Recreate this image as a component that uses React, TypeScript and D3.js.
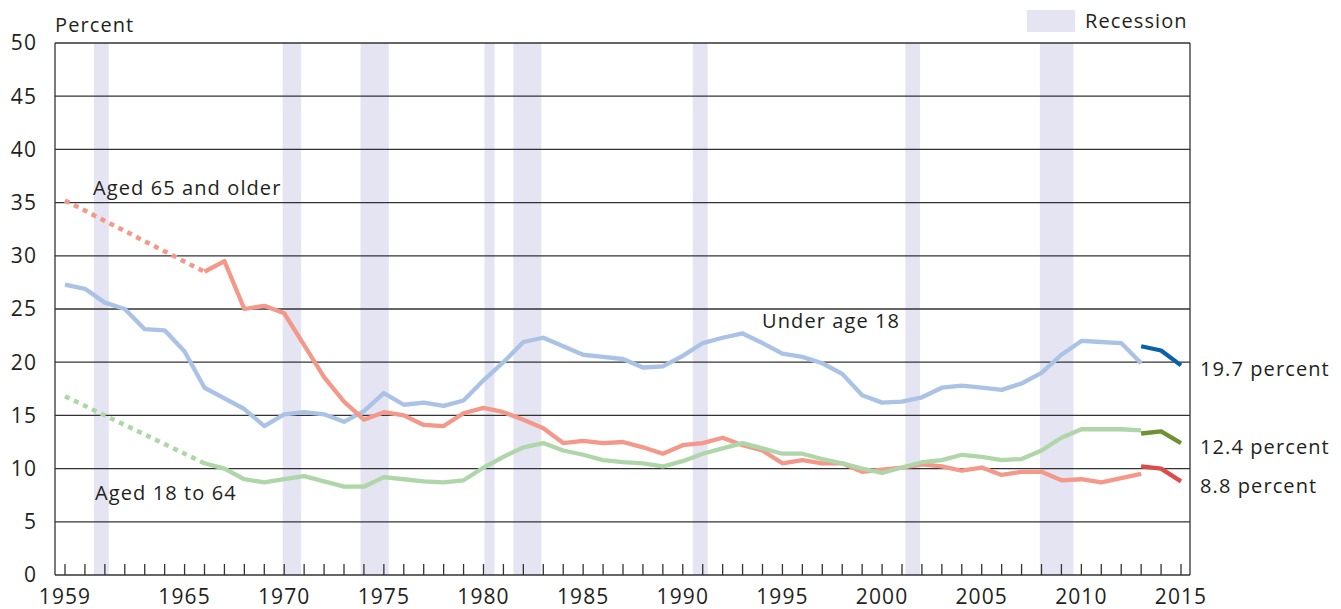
import React from 'react';
import * as d3 from 'd3';

// poverty rate by age, percent (official measure)
const firstYear = 1959;
const lastYear = 2015;

const under18 = [
  27.3, 26.9, 25.6, 25.0, 23.1, 23.0, 21.0, 17.6, 16.6, 15.6,
  14.0, 15.1, 15.3, 15.1, 14.4, 15.4, 17.1, 16.0, 16.2, 15.9,
  16.4, 18.3, 20.0, 21.9, 22.3, 21.5, 20.7, 20.5, 20.3, 19.5,
  19.6, 20.6, 21.8, 22.3, 22.7, 21.8, 20.8, 20.5, 19.9, 18.9,
  16.9, 16.2, 16.3, 16.7, 17.6, 17.8, 17.6, 17.4, 18.0, 19.0,
  20.7, 22.0, 21.9, 21.8, 19.9,
];
// 1966 - 2013
const aged65 = [
  28.5, 29.5, 25.0, 25.3, 24.6, 21.6, 18.6, 16.3, 14.6, 15.3,
  15.0, 14.1, 14.0, 15.2, 15.7, 15.3, 14.6, 13.8, 12.4, 12.6,
  12.4, 12.5, 12.0, 11.4, 12.2, 12.4, 12.9, 12.2, 11.7, 10.5,
  10.8, 10.5, 10.5, 9.7, 9.9, 10.1, 10.4, 10.2, 9.8, 10.1,
  9.4, 9.7, 9.7, 8.9, 9.0, 8.7, 9.1, 9.5,
];
const aged18to64 = [
  10.5, 10.0, 9.0, 8.7, 9.0, 9.3, 8.8, 8.3, 8.3, 9.2,
  9.0, 8.8, 8.7, 8.9, 10.1, 11.1, 12.0, 12.4, 11.7, 11.3,
  10.8, 10.6, 10.5, 10.2, 10.7, 11.4, 11.9, 12.4, 11.9, 11.4,
  11.4, 10.9, 10.5, 10.0, 9.6, 10.1, 10.6, 10.8, 11.3, 11.1,
  10.8, 10.9, 11.7, 12.9, 13.7, 13.7, 13.7, 13.6,
];
// 1959 and 1966 only (no annual data between)
const aged65Gap = [35.2, 28.5];
const aged18to64Gap = [16.8, 10.5];
const gapYears = [1959, 1966];
// redesigned survey 2013 - 2015
const newYears = [2013, 2014, 2015];
const under18New = [21.5, 21.1, 19.7];
const aged65New = [10.2, 10.0, 8.8];
const aged18to64New = [13.3, 13.5, 12.4];

const recessions = [
  [1960.45, 1961.2], [1969.92, 1970.85], [1973.83, 1975.25], [1980.05, 1980.55],
  [1981.5, 1982.9], [1990.5, 1991.25], [2001.17, 2001.9], [2007.92, 2009.6],
];
const yTicks = [0, 5, 10, 15, 20, 25, 30, 35, 40, 45, 50];
const xLabels = [1959, 1965, 1970, 1975, 1980, 1985, 1990, 1995, 2000, 2005, 2010, 2015];

const W = 1341;
const H = 609;
const left = 55;
const right = 1190;
const top = 43;
const bottom = 575;
const font = '"Open Sans", sans-serif';
const ink = '#231f20';

const x = d3.scaleLinear().domain([firstYear, lastYear]).range([65, 1181]);
const y = d3.scaleLinear().domain([0, 50]).range([bottom, top]);

const line = d3.line<[number, number]>()
  .x(d => x(d[0]))
  .y(d => y(d[1]));

const pts = (start: number, vals: number[]) =>
  vals.map((v, i) => [start + i, v] as [number, number]);
const ptsAt = (yrs: number[], vals: number[]) =>
  vals.map((v, i) => [yrs[i], v] as [number, number]);

export default function App() {
  const solid = [
    { d: pts(1959, under18), c: '#a9c2e5' },
    { d: pts(1966, aged65), c: '#f4988a' },
    { d: pts(1966, aged18to64), c: '#aed6a8' },
    { d: ptsAt(newYears, under18New), c: '#0a62a6' },
    { d: ptsAt(newYears, aged65New), c: '#dd4a4a' },
    { d: ptsAt(newYears, aged18to64New), c: '#6e9233' },
  ];
  const dotted = [
    { d: ptsAt(gapYears, aged65Gap), c: '#f4988a' },
    { d: ptsAt(gapYears, aged18to64Gap), c: '#aed6a8' },
  ];
  const years = d3.range(firstYear, lastYear + 1);

  return (
    <svg width={W} height={H} style={{ position: 'absolute', left: 0, top: 0 }}
      fontFamily={font} letterSpacing={1.1}>
      <rect width={W} height={H} fill="#fff" />
      {recessions.map(([a, b], i) => (
        <rect key={i} x={x(a)} y={top} width={x(b) - x(a)} height={bottom - top} fill="#e5e4f2" />
      ))}
      {yTicks.map(t => (
        <g key={t}>
          <line x1={left} x2={right} y1={y(t)} y2={y(t)} stroke="#333" strokeWidth={1.3} />
          <text x={37} y={y(t)} dy="0.35em" textAnchor="end" fontSize={21} fill={ink}>{t}</text>
        </g>
      ))}
      <line x1={left} x2={left} y1={top} y2={bottom} stroke="#333" strokeWidth={1.3} />
      <line x1={right} x2={right} y1={top} y2={bottom} stroke="#333" strokeWidth={1.3} />
      {years.map(yr => (
        <line key={yr} x1={x(yr)} x2={x(yr)} y1={bottom} y2={bottom - 11} stroke="#333" strokeWidth={1.3} />
      ))}
      {xLabels.map(yr => (
        <text key={yr} x={x(yr)} y={604} textAnchor="middle" fontSize={21} fill={ink}>{yr}</text>
      ))}
      {dotted.map((s, i) => (
        <path key={i} d={line(s.d) ?? ''} fill="none" stroke={s.c} strokeWidth={4.5} strokeDasharray="5,5" />
      ))}
      {solid.map((s, i) => (
        <path key={i} d={line(s.d) ?? ''} fill="none" stroke={s.c} strokeWidth={4.3} strokeLinejoin="round" />
      ))}
      <text x={55} y={32} fontSize={20} fill={ink}>Percent</text>
      <text x={93} y={195} fontSize={20} fill={ink}>Aged 65 and older</text>
      <text x={95} y={500} fontSize={20} fill={ink}>Aged 18 to 64</text>
      <text x={762} y={328} fontSize={20} fill={ink}>Under age 18</text>
      <text x={1200} y={376} fontSize={20} fill={ink}>19.7 percent</text>
      <text x={1200} y={454} fontSize={20} fill={ink}>12.4 percent</text>
      <text x={1200} y={493} fontSize={20} fill={ink}>8.8 percent</text>
      <rect x={1027} y={10} width={48} height={22} fill="#e5e4f2" />
      <text x={1085} y={28} fontSize={20} fill={ink}>Recession</text>
    </svg>
  );
}
